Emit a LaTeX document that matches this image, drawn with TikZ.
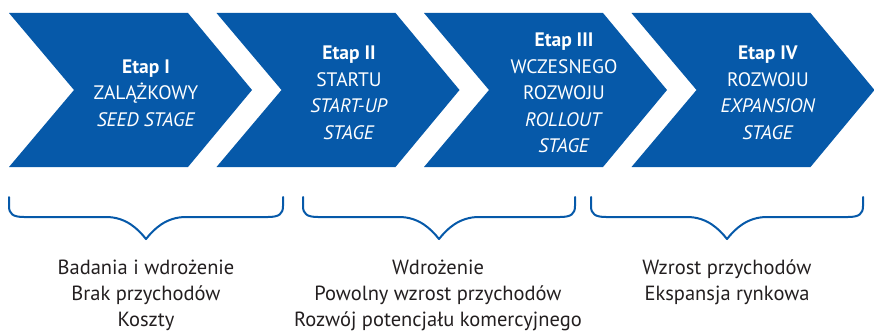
\documentclass[tikz,border=0pt]{standalone}
\usepackage{fontspec}
\setmainfont{PT Sans}
\definecolor{stageblue}{RGB}{6,89,169}
\definecolor{txtgray}{RGB}{35,31,32}
\newcommand\stagebrace[3]{%
  \draw[bracepath] (#1,197) -- (#1,206) .. controls (#1,214) and (#1+4,217) .. (#1+15,217)
    -- (#2-40,217) .. controls (#2-20,217) and (#2-8,229) .. (#2,239)
    .. controls (#2+8,229) and (#2+20,217) .. (#2+40,217)
    -- (#3-15,217) .. controls (#3-4,217) and (#3,214) .. (#3,206) -- (#3,197);}
\begin{document}
\begin{tikzpicture}[x=1pt,y=-1pt,
  chev/.style={fill=stageblue, draw=none},
  stagetext/.style={text=white, align=center, font=\fontsize{19.5}{26.5}\selectfont, anchor=center, inner sep=0pt},
  bracepath/.style={draw=stageblue, line width=2pt, line join=round, line cap=round},
  desc/.style={text=txtgray, align=center, font=\fontsize{20.5}{26}\selectfont, anchor=base, inner sep=0pt}]
\useasboundingbox (0,0) rectangle (874,331);
\foreach \L in {9, 216.5, 424, 631.5}{
  \fill[chev] (\L,13) -- ++(179,0) -- ++(64,77) -- ++(-64,77) -- ++(-179,0) -- ++(65,-77) -- cycle;
}
\node[stagetext] (s1) at (146,93) {\textbf{Etap I}\\ZALĄŻKOWY\\\textit{SEED STAGE}};
\node[stagetext] (s2) at (349,93) {\textbf{Etap II}\\STARTU\\\textit{START-UP}\\\textit{STAGE}};
\node[stagetext] (s3) at (564,93) {\textbf{Etap III}\\WCZESNEGO\\ROZWOJU\\\textit{ROLLOUT}\\\textit{STAGE}};
\node[stagetext] (s4) at (768,93) {\textbf{Etap IV}\\ROZWOJU\\\textit{EXPANSION}\\\textit{STAGE}};
\stagebrace{9}{146}{283}
\stagebrace{303}{439}{575}
\stagebrace{591}{727}{863}
\node[desc] (d1) at (146,326) {Badania i wdrożenie\\Brak przychodów\\Koszty};
\node[desc] (d2) at (438,326) {Wdrożenie\\Powolny wzrost przychodów\\Rozwój potencjału komercyjnego};
\node[desc] (d3) at (727,300) {Wzrost przychodów\\Ekspansja rynkowa};
\end{tikzpicture}
\end{document}
